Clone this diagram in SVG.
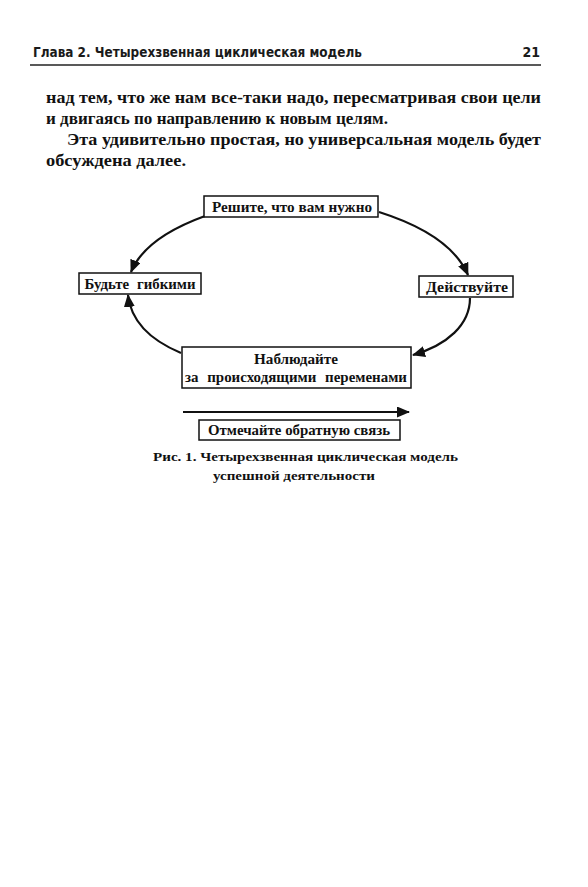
<svg xmlns="http://www.w3.org/2000/svg" width="588" height="887" viewBox="0 0 588 887">
<style>
.hdr{font-family:"DejaVu Sans Condensed","DejaVu Sans",sans-serif;font-weight:bold;font-size:14px;fill:#1a1a1a}
.body{font-family:"Liberation Serif",serif;font-weight:bold;font-size:17px;fill:#111}
.lbl{font-family:"Liberation Serif",serif;font-weight:bold;font-size:15px;fill:#111;text-anchor:middle}
.cap{font-family:"Liberation Serif",serif;font-weight:bold;font-size:13.5px;fill:#111}
.box{fill:#fff;stroke:#111;stroke-width:1.5}
.conn{fill:none;stroke:#111;stroke-width:2.2}
</style>
<defs>
<marker id="ah" viewBox="0 0 13 11" refX="12" refY="5.5" markerWidth="13" markerHeight="11" markerUnits="userSpaceOnUse" orient="auto">
<path d="M0,0 L13,5.5 L0,11 Z" fill="#111"/>
</marker>
</defs>
<rect width="588" height="887" fill="#fff"/>
<g id="header">
<text class="hdr" x="33" y="57" textLength="329" lengthAdjust="spacingAndGlyphs">Глава 2. Четырехзвенная циклическая модель</text>
<text class="hdr" x="540" y="57" text-anchor="end" font-size="16">21</text>
<line x1="30" y1="65" x2="541" y2="65" stroke="#222" stroke-width="1.5"/>
</g>
<g id="bodytext">
<text class="body" x="46" y="103" textLength="495" lengthAdjust="spacingAndGlyphs">над тем, что же нам все-таки надо, пересматривая свои цели</text>
<text class="body" x="46" y="124" textLength="342" lengthAdjust="spacingAndGlyphs">и двигаясь по направлению к новым целям.</text>
<text class="body" x="67" y="145" textLength="474" lengthAdjust="spacingAndGlyphs">Эта удивительно простая, но универсальная модель будет</text>
<text class="body" x="46" y="166" textLength="140" lengthAdjust="spacingAndGlyphs">обсуждена далее.</text>
</g>
<g id="connectors">
<path class="conn" d="M205,216 C172,228 142,245 131,272" marker-end="url(#ah)"/>
<path class="conn" d="M379,212 C420,225 455,245 468,275" marker-end="url(#ah)"/>
<path class="conn" d="M470,298 C470,325 447,345 413,355" marker-end="url(#ah)"/>
<path class="conn" d="M181,353 C150,340 131,322 128,295" marker-end="url(#ah)"/>
<path class="conn" d="M183,412 L409,412" marker-end="url(#ah)"/>
</g>
<g id="node-decide">
<rect class="box" x="204" y="196" width="174" height="21"/>
<text class="lbl" x="292" y="212" textLength="160" lengthAdjust="spacingAndGlyphs">Решите, что вам нужно</text>
</g>
<g id="node-flexible">
<rect class="box" x="79" y="273" width="122" height="21"/>
<text class="lbl" x="140" y="289" word-spacing="4" textLength="111" lengthAdjust="spacingAndGlyphs">Будьте гибкими</text>
</g>
<g id="node-act">
<rect class="box" x="419" y="276" width="94" height="21"/>
<text class="lbl" x="467" y="292" textLength="82" lengthAdjust="spacingAndGlyphs">Действуйте</text>
</g>
<g id="node-observe">
<rect class="box" x="182" y="347" width="229" height="41"/>
<text class="lbl" x="296" y="364" textLength="84" lengthAdjust="spacingAndGlyphs">Наблюдайте</text>
<text class="lbl" x="296" y="382" word-spacing="5" textLength="222" lengthAdjust="spacingAndGlyphs">за происходящими переменами</text>
</g>
<g id="node-feedback">
<rect class="box" x="199" y="420" width="201" height="20"/>
<text class="lbl" x="299" y="435" textLength="182" lengthAdjust="spacingAndGlyphs">Отмечайте обратную связь</text>
</g>
<g id="caption">
<text class="cap" x="153" y="461" textLength="305" lengthAdjust="spacingAndGlyphs">Рис. 1. Четырехзвенная циклическая модель</text>
<text class="cap" x="213" y="480" textLength="162" lengthAdjust="spacingAndGlyphs">успешной деятельности</text>
</g>
</svg>
